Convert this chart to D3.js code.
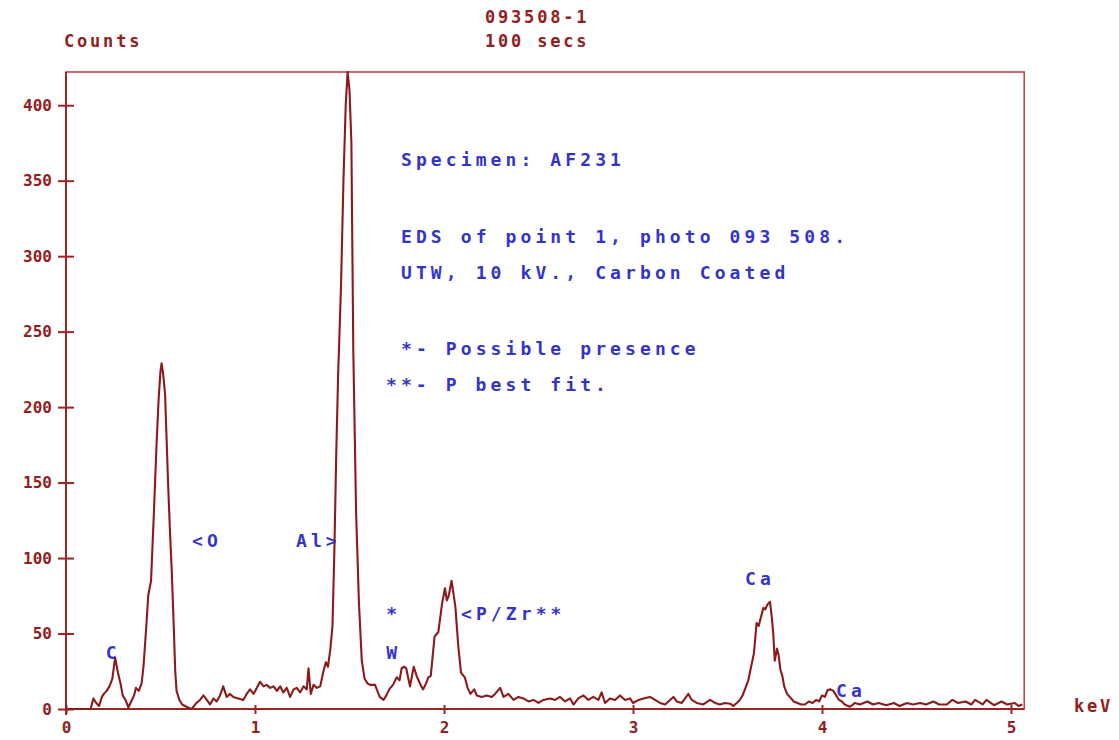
<!DOCTYPE html>
<html>
<head>
<meta charset="utf-8">
<script src="https://cdn.jsdelivr.net/npm/d3@7"></script>
<style>
  html, body { margin: 0; padding: 0; background: #ffffff; }
  svg { display: block; }
</style>
</head>
<body>
<svg id="chart" width="1119" height="740"></svg>
<script>
// ---------------- DATA ----------------
const energyKeV = [
  0, 0.13, 0.145, 0.16, 0.175, 0.19, 0.2, 0.215, 0.23, 0.245, 0.26, 0.275, 0.29, 0.3, 0.315, 0.33, 0.345, 0.36, 0.37, 0.385, 0.4,
  0.41, 0.425, 0.435, 0.45, 0.465, 0.48, 0.49, 0.5, 0.506, 0.514, 0.524, 0.532, 0.54, 0.55, 0.56, 0.57, 0.578, 0.585, 0.6, 0.615, 0.63, 0.645,
  0.665, 0.69, 0.709, 0.727, 0.745, 0.762, 0.78, 0.797, 0.815, 0.832, 0.85, 0.868, 0.885, 0.912, 0.938, 0.956, 0.974, 0.992,
  1.01, 1.027, 1.045, 1.062, 1.08, 1.098, 1.116, 1.133, 1.15, 1.168, 1.186, 1.204, 1.221, 1.239, 1.257, 1.274, 1.283, 1.295,
  1.31, 1.327, 1.345, 1.362, 1.375, 1.386, 1.398,
  1.41, 1.42, 1.43, 1.44, 1.455, 1.468, 1.48, 1.49, 1.5, 1.51, 1.52, 1.535, 1.55, 1.565, 1.58, 1.595,
  1.61, 1.635, 1.66, 1.68, 1.695, 1.71, 1.73, 1.75, 1.765, 1.776, 1.79, 1.8, 1.82, 1.84, 1.855, 1.865, 1.88, 1.89, 1.905, 1.917, 1.93,
  1.95, 1.97, 1.99, 2.005, 2.015, 2.025, 2.04, 2.06, 2.076, 2.09, 2.11, 2.125, 2.14, 2.16, 2.173,
  2.2, 2.226, 2.253, 2.27, 2.297, 2.315, 2.341, 2.368, 2.394, 2.42, 2.447, 2.473, 2.5, 2.526, 2.561, 2.588, 2.614, 2.641, 2.667,
  2.685, 2.711, 2.738, 2.764, 2.79, 2.817, 2.834, 2.852, 2.878, 2.905, 2.931, 2.958, 2.984,
  3.0, 3.03, 3.055, 3.09, 3.117, 3.143, 3.17, 3.196, 3.214, 3.231, 3.258, 3.293, 3.311, 3.337, 3.372, 3.408, 3.434, 3.46, 3.487, 3.513, 3.531, 3.549,
  3.565, 3.58, 3.595, 3.61, 3.625, 3.64, 3.654, 3.665, 3.675, 3.69, 3.7, 3.71, 3.725, 3.735, 3.742, 3.75, 3.762, 3.77, 3.78, 3.79, 3.8,
  3.815, 3.83, 3.85, 3.87, 3.89, 3.91, 3.93, 3.95, 3.97, 3.985, 4.0, 4.015, 4.03, 4.045, 4.06, 4.075, 4.09, 4.105, 4.12,
  4.148, 4.175, 4.2, 4.24, 4.27, 4.3, 4.34, 4.38, 4.41, 4.45, 4.48, 4.52, 4.55, 4.59, 4.62, 4.66, 4.69, 4.72, 4.76, 4.79, 4.81, 4.85,
  4.87, 4.91, 4.95, 4.98, 5.02, 5.04, 5.06
];
const counts = [
  0, 0, 7, 4, 2, 8, 10, 12, 15, 20, 34, 24, 16, 9, 6, 1, 5, 9, 14, 12, 17,
  28, 55, 75, 85, 130, 178, 205, 224, 229, 222, 209, 180, 150, 118, 90, 55, 25, 12, 6, 3, 2, 1,
  0, 4, 6, 9, 6, 3, 7, 5, 9, 15, 8, 10, 8, 7, 6, 10, 13, 10,
  14, 18, 15, 16, 14, 15, 12, 15, 11, 14, 8, 13, 14, 11, 15, 13, 27, 10,
  16, 14, 15, 25, 31, 28, 39,
  55, 105, 170, 222, 280, 350, 400, 422, 410, 375, 238, 130, 70, 32, 20, 17,
  16, 16, 8, 6, 9, 13, 16, 21, 19, 27, 28, 27, 15, 28, 22, 19, 15, 13, 17, 21, 22,
  48, 51, 70, 80, 72, 75, 85, 68, 41, 24, 21, 14, 10, 13, 9,
  8, 9, 8, 10, 14, 8, 10, 6, 8, 7, 5, 6, 4, 6, 7, 6, 8, 5, 7,
  3, 7, 9, 6, 8, 6, 11, 4, 7, 6, 9, 6, 7,
  4, 6, 7, 8, 6, 4, 3, 6, 8, 5, 4, 10, 6, 4, 3, 6, 4, 3, 4, 3.5, 2, 4,
  6, 9, 14, 19, 28, 37, 57, 55, 60, 67, 66, 69, 71, 60, 50, 32, 40, 36, 26, 22, 15,
  10, 8, 5, 4, 3, 3, 5, 4, 6, 5, 9, 8, 12.6, 13, 12, 9, 6, 5, 3,
  1.5, 4, 3, 5, 3, 4, 2.5, 4, 2, 4, 3, 4, 3, 5, 3, 3, 6, 4, 5, 3, 6, 3,
  6, 2.5, 5, 3, 4, 2, 3
];

const yTicks = [0, 50, 100, 150, 200, 250, 300, 350, 400];
const xTicks = [0, 1, 2, 3, 4, 5];
const xUnit = "keV";
const yTitle = "Counts";
const headerLines = ["093508-1", "100 secs"];
const noteLines = ["Specimen:  AF231", "EDS of point 1, photo 093 508.", "UTW,  10 kV.,  Carbon Coated", "*- Possible presence", "**- P best fit."];
// peak labels: text, energy anchor (keV), count anchor
const peakLabels = [
  { text: "C",       keV: 0.21,  cnt: 37 },
  { text: "<O",      keV: 0.667, cnt: 111 },
  { text: "Al>",     keV: 1.217, cnt: 111 },
  { text: "*",       keV: 1.695, cnt: 63 },
  { text: "W",       keV: 1.695, cnt: 37 },
  { text: "<P/Zr**", keV: 2.09,  cnt: 63 },
  { text: "Ca",      keV: 3.593, cnt: 86 },
  { text: "Ca",      keV: 4.074, cnt: 12 }
];

// ---------------- LAYOUT ----------------
const svg = d3.select("#chart");
const plotLeft = 66, plotTop = 72, plotBottom = 709;
const pxPerKeV = 189;
const xMax = 5.07, yMax = 422;

const x = d3.scaleLinear().domain([0, xMax]).range([plotLeft, plotLeft + pxPerKeV * xMax]);
const y = d3.scaleLinear().domain([0, yMax]).range([plotBottom, plotTop]);

const lineColor = "#8c1a1a";
const frameColor = "#c04848";
const axisColor = "#9e2424";
const textRed = "#922020";
const textBlue = "#3434c8";
const monoFont = "'DejaVu Sans Mono', 'Liberation Mono', monospace";

// frame
svg.append("rect")
  .attr("x", x(0)).attr("y", y(yMax))
  .attr("width", x(xMax) - x(0)).attr("height", y(0) - y(yMax))
  .attr("fill", "none").attr("stroke", frameColor).attr("stroke-width", 1.6);

// clip
svg.append("clipPath").attr("id", "plotclip").append("rect")
  .attr("x", x(0)).attr("y", y(yMax) - 1)
  .attr("width", x(xMax) - x(0)).attr("height", y(0) - y(yMax) + 2);

// y axis
const yAxis = d3.axisLeft(y).tickValues(yTicks).tickSize(8).tickPadding(8);
const gy = svg.append("g").attr("transform", `translate(${x(0)},0)`).call(yAxis);
gy.select(".domain").attr("stroke", axisColor).attr("stroke-width", 2)
  .attr("d", `M0,${y(yMax)}V${y(0) + 6}`);
gy.selectAll(".tick line").attr("stroke", axisColor).attr("stroke-width", 2)
  .attr("x1", -8).attr("x2", 8);
gy.selectAll(".tick text")
  .attr("fill", textRed).attr("font-family", monoFont).attr("font-weight", "bold")
  .attr("font-size", 16).attr("x", -14);

// x axis
const xAxis = d3.axisBottom(x).tickValues(xTicks).tickSize(5).tickPadding(8).tickFormat(d3.format("d"));
const gx = svg.append("g").attr("transform", `translate(0,${y(0)})`).call(xAxis);
gx.select(".domain").attr("stroke", axisColor).attr("stroke-width", 2.2)
  .attr("d", `M${x(0)},0H${x(xMax)}`);
gx.selectAll(".tick line").attr("stroke", axisColor).attr("stroke-width", 2)
  .attr("y1", -4).attr("y2", 5);
gx.selectAll(".tick text")
  .attr("fill", textRed).attr("font-family", monoFont).attr("font-weight", "bold")
  .attr("font-size", 16);

// spectrum
const pts = energyKeV.map((e, i) => [e, counts[i]]);
const line = d3.line().x(d => x(d[0])).y(d => y(d[1]));
svg.append("path")
  .datum(pts)
  .attr("clip-path", "url(#plotclip)")
  .attr("d", line)
  .attr("fill", "none")
  .attr("stroke", lineColor)
  .attr("stroke-width", 2.1)
  .attr("stroke-linejoin", "round");

// header texts (red)
const redText = (t, px, py, anchor) => svg.append("text")
  .attr("x", px).attr("y", py).attr("text-anchor", anchor || "start")
  .attr("fill", textRed).attr("font-family", monoFont).attr("font-weight", "bold")
  .attr("font-size", 17).attr("letter-spacing", 2.8).text(t);

redText(yTitle, 64, 47);
headerLines.forEach((t, i) => redText(t, 485, 23 + i * 24));
redText(xUnit, 1074, 712);

// notes (blue)
const blueText = (t, px, py) => svg.append("text")
  .attr("x", px).attr("y", py)
  .attr("fill", textBlue).attr("font-family", monoFont).attr("font-weight", "bold")
  .attr("font-size", 18).attr("letter-spacing", 4.1).text(t);

const noteY = [166, 243, 279, 355, 391];
const noteX = [401, 401, 401, 401, 386];
noteLines.forEach((t, i) => blueText(t, noteX[i], noteY[i]));

peakLabels.forEach(p => blueText(p.text, x(p.keV), y(p.cnt) + 6));
</script>
</body>
</html>
